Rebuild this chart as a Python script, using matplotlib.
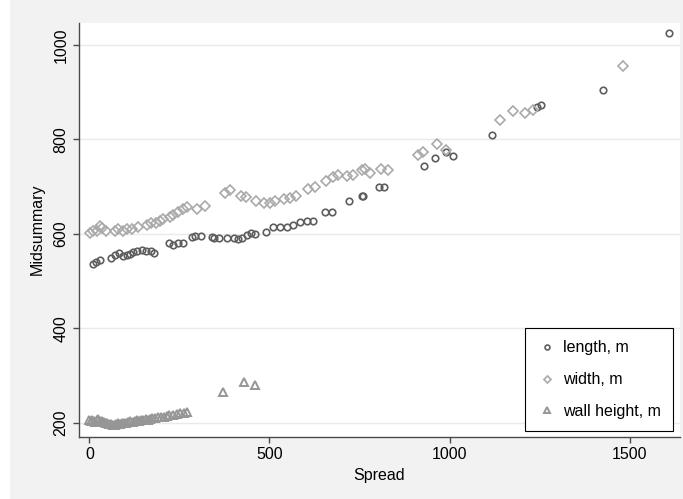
import matplotlib.pyplot as plt
from matplotlib.patches import Rectangle

# midsummary vs spread
length_spread = [9, 18, 29, 60, 71, 82, 92, 103, 114, 122, 131, 145, 157, 170, 179,
                 220, 233, 247, 261, 284, 293, 309, 339, 345, 361, 381, 401, 413, 424,
                 437, 450, 460, 490, 509, 529, 549, 566, 585, 605, 620, 655, 673,
                 721, 756, 761, 805, 819, 930, 960, 990, 1011, 1118, 1243, 1254,
                 1426, 1610]
length_mid = [535, 540, 544, 549, 555, 559, 553, 554, 557, 561, 564, 566, 563, 564, 560,
              580, 576, 580, 580, 592, 595, 595, 592, 591, 590, 590, 590, 588, 591,
              598, 602, 599, 604, 615, 615, 615, 619, 624, 626, 627, 645, 645,
              670, 679, 680, 698, 700, 744, 760, 774, 765, 810, 868, 872,
              905, 1025]

width_spread = [1, 11, 20, 29, 34, 46, 71, 80, 92, 103, 117, 136, 159, 170, 185, 196,
                205, 224, 233, 247, 259, 270, 299, 321, 377, 390, 421, 435, 463, 485,
                501, 515, 540, 557, 574, 607, 627, 657, 677, 691, 714, 731, 756, 765,
                779, 809, 830, 913, 927, 965, 990, 1140, 1176, 1210, 1232, 1483]
width_mid = [601, 605, 606, 617, 612, 605, 605, 610, 605, 610, 610, 614, 619, 622, 622, 626,
             631, 636, 640, 645, 652, 657, 652, 659, 686, 693, 680, 678, 670, 665,
             665, 670, 674, 676, 680, 695, 699, 712, 720, 725, 723, 725, 734, 737,
             729, 737, 734, 767, 774, 790, 778, 840, 860, 855, 862, 956]

wall_spread = [0, 4, 8, 12, 16, 20, 25, 30, 35, 40, 45, 50, 55, 60, 65, 70, 75, 80,
               85, 90, 96, 102, 108, 114, 120, 126, 132, 138, 144, 150, 156, 162,
               168, 175, 182, 190, 198, 206, 214, 222, 232, 242, 252, 262, 272,
               370, 430, 460]
wall_mid = [205, 203, 206, 204, 202, 205, 207, 204, 203, 201, 200, 199, 197, 196,
            195, 195, 196, 198, 197, 199, 198, 200, 201, 203, 202, 204, 205, 204,
            206, 205, 207, 206, 208, 209, 210, 211, 212, 212, 214, 215, 217, 219,
            220, 221, 222, 265, 285, 280]

labels = ["length, m", "width, m", "wall height, m"]

plt.rcParams["font.family"] = ["Liberation Sans", "DejaVu Sans"]
plt.rcParams["font.size"] = 11.5

fig = plt.figure(figsize=(6.83, 4.99), dpi=100, facecolor="#f2f2f2")
fig.patches.append(Rectangle((0, 0), 10 / 683, 1, transform=fig.transFigure,
                             facecolor="white", edgecolor="none", zorder=-1))
ax = fig.add_axes([79 / 683, 1 - 436.7 / 499, 601 / 683, 414 / 499])
ax.set_facecolor("white")

ax.plot(length_spread, length_mid, "o", ms=4.7, mfc="none", mec="#5e5e5e", mew=1.2,
        label=labels[0], zorder=3)
ax.plot(width_spread, width_mid, "D", ms=4.8, mfc="none", mec="#aaaaaa", mew=1.2,
        label=labels[1], zorder=3)
ax.plot(wall_spread, wall_mid, "^", ms=6, mfc="none", mec="#969696", mew=1.4,
        label=labels[2], zorder=3)

ax.set_xlim(-29, 1640)
ax.set_ylim(170, 1047)
ax.set_xticks([0, 500, 1000, 1500])
ax.set_yticks([200, 400, 600, 800, 1000])
ax.grid(axis="y", color="#eaeaea", lw=1.0)
ax.set_axisbelow(True)

for s in ["top", "right"]:
    ax.spines[s].set_visible(False)
for s in ["left", "bottom"]:
    ax.spines[s].set_color("#4a4a4a")
    ax.spines[s].set_linewidth(1.0)
ax.tick_params(colors="#4a4a4a", labelcolor="black", length=4, width=1.0)
plt.setp(ax.get_yticklabels(), rotation=90, va="center")

ax.set_xlabel("Spread", labelpad=4)
ax.set_ylabel("Midsummary", labelpad=6)

leg = ax.legend(loc="lower right", bbox_to_anchor=(0.988, 0.014), borderaxespad=0,
                fancybox=False, edgecolor="black", framealpha=1, handletextpad=0.4,
                labelspacing=1.05, handlelength=1.2, markerscale=0.75,
                borderpad=0.75)
leg.get_frame().set_linewidth(0.8)

fig.savefig("out.png", dpi=100, facecolor=fig.get_facecolor())
